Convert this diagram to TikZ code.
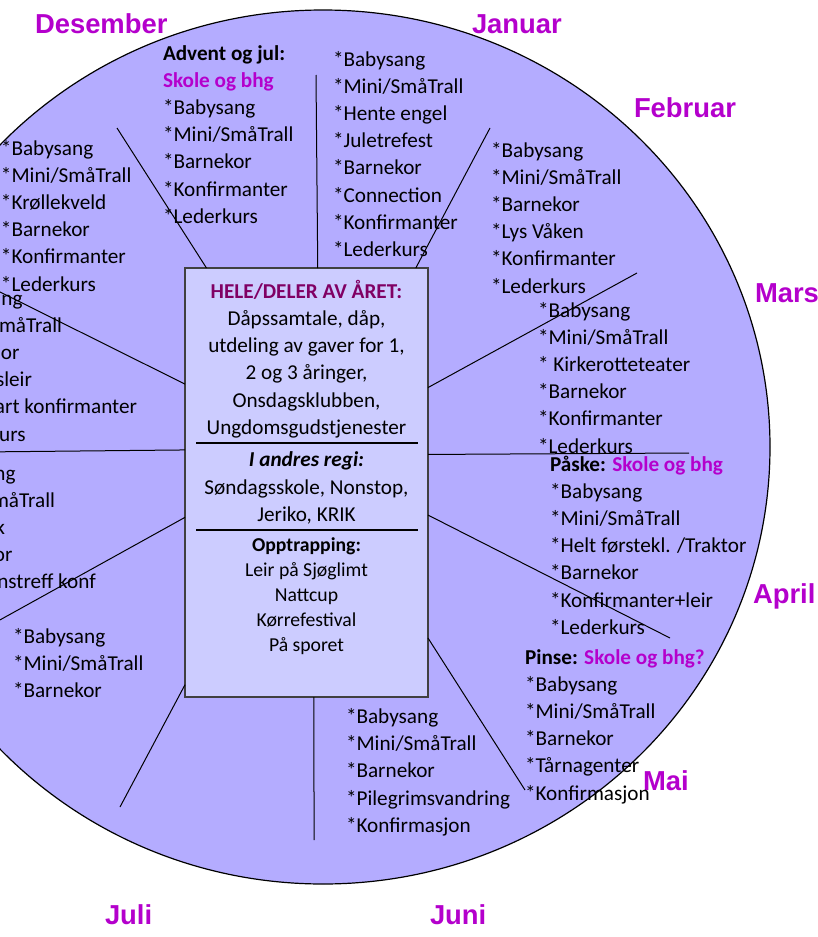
\documentclass[tikz,border=0pt]{standalone}
\usepackage{fontspec}
\setmainfont{Carlito}
\newfontfamily\monthfont{Liberation Sans}
\definecolor{ringfill}{RGB}{180,172,255}
\definecolor{boxfill}{RGB}{204,204,255}
\definecolor{boxborder}{RGB}{64,64,64}
\definecolor{monthpurple}{RGB}{180,0,204}
\definecolor{headplum}{RGB}{128,0,100}
\tikzstyle{every node}=[inner sep=0pt, outer sep=0pt]
\tikzstyle{month} = [anchor=base west, font=\monthfont\bfseries\fontsize{13.7}{16}\selectfont, text=monthpurple]
\tikzstyle{item} = [anchor=base west, font=\fontsize{10.6}{13.6}\selectfont]
\tikzstyle{cut} = [item, anchor=base east]
\tikzstyle{boxtext} = [anchor=base, font=\fontsize{10.6}{13.6}\selectfont]
\tikzstyle{boxsmall} = [anchor=base, font=\fontsize{9.85}{12.5}\selectfont]
\tikzstyle{spoke} = [draw, line width=0.5pt]
\tikzstyle{divider} = [draw, line width=1.3pt]
\def\lsep{27.2}
\begin{document}
\begin{tikzpicture}[x=0.5pt, y=-0.5pt]
    \useasboundingbox (0,0) rectangle (818,937);
    \clip (0,0) rectangle (818,937);

    % the year wheel
    \draw[fill=ringfill, line width=0.6pt] (323,447) ellipse [x radius=223.5pt, y radius=218.5pt];

    \node[month] (desember) at (35,33) {Desember};
    \node[month] (januar) at (472,33) {Januar};
    \node[month] (februar) at (634,117) {Februar};
    \node[month] (mars) at (755,302) {Mars};
    \node[month] (april) at (753,603) {April};
    \node[month] (mai) at (643,790) {Mai};
    \node[month] (juni) at (430,924) {Juni};
    \node[month] (juli) at (105,924) {Juli};

    % centre box
    \node[draw=boxborder, fill=boxfill, line width=0.8pt, minimum width=121.5pt, minimum height=214.5pt] (hele) at (306.5,482.5) {};

    % spokes
    \foreach \n/\x/\y in {desjan/316/75, janfeb/490/128, febmar/637/273, marapr/689/453,
        aprmai/670/638, maijun/525/790, junjul/314/840, julaug/120/807,
        augsep/-20/631, sepokt/-20/452, oktnov/-20/282, novdes/117/128}
        \coordinate (s-\n) at (\x,\y);
    \foreach \n/\a in {desjan/87.46, janfeb/63.59, febmar/38.46, marapr/13.65,
        aprmai/345.91, maijun/308.91, junjul/272.0, julaug/239.4,
        augsep/196.72, sepokt/165.91, oktnov/141.26, novdes/115.76}
        \draw[spoke] (hele.\a) -- (s-\n);

    \node[boxtext, font=\fontsize{10.6}{13.6}\selectfont\bfseries, text=headplum] (heletitle) at (306.5,298) {HELE/DELER AV ÅRET:};
    \node[boxtext] (hele1) at (306.5,325.3) {Dåpssamtale, dåp,};
    \node[boxtext] (hele2) at (306.5,352.6) {utdeling av gaver for 1,};
    \node[boxtext] (hele3) at (306.5,379.9) {2 og 3 åringer,};
    \node[boxtext] (hele4) at (306.5,407.2) {Onsdagsklubben,};
    \node[boxtext] (hele5) at (306.5,434.5) {Ungdomsgudstjenester};
    \draw[divider] (196,443) -- (418,443);
    \node[boxtext, font=\fontsize{10.6}{13.6}\selectfont\bfseries\itshape] (andretitle) at (306.5,466.7) {I andres regi:};
    \node[boxtext] (andre1) at (306.5,494) {Søndagsskole, Nonstop,};
    \node[boxtext] (andre2) at (306.5,521.3) {Jeriko, KRIK};
    \draw[divider] (196,530) -- (418,530);
    \node[boxsmall, font=\fontsize{9.85}{12.5}\selectfont\bfseries] (opptitle) at (306.5,551.7) {Opptrapping:};
    \foreach \t [count=\i] in {Leir på Sjøglimt, Nattcup, Kørrefestival, På sporet}
        \node[boxsmall] (opp\i) at (306.5,551.7+25*\i) {\t};

    % months
    \foreach \t [count=\i from 0] in {*Babysang, *Mini/SmåTrall, *Krøllekveld, *Barnekor, *Konfirmanter, *Lederkurs}
        \node[item] (nov\i) at (1,155+\lsep*\i) {\t};

    \node[item, font=\fontsize{10.6}{13.6}\selectfont\bfseries] (deshead) at (163,60) {Advent og jul:};
    \node[item, font=\fontsize{10.6}{13.6}\selectfont\bfseries, text=monthpurple] (desskole) at (163,87.2) {Skole og bhg};
    \foreach \t [count=\i from 0] in {*Babysang, *Mini/SmåTrall, *Barnekor, *Konfirmanter, *Lederkurs}
        \node[item] (des\i) at (163,114.4+\lsep*\i) {\t};

    \foreach \t [count=\i from 0] in {*Babysang, *Mini/SmåTrall, *Hente engel, *Juletrefest, *Barnekor, *Connection, *Konfirmanter, *Lederkurs}
        \node[item] (jan\i) at (333,66+\lsep*\i) {\t};

    \foreach \t [count=\i from 0] in {*Babysang, *Mini/SmåTrall, *Barnekor, *Lys Våken, *Konfirmanter, *Lederkurs}
        \node[item] (feb\i) at (491,157+\lsep*\i) {\t};

    \foreach \t [count=\i from 0] in {*Babysang, *Mini/SmåTrall, * Kirkerotteteater, *Barnekor, *Konfirmanter, *Lederkurs}
        \node[item] (mar\i) at (538,317+\lsep*\i) {\t};

    \node[item] (aprhead) at (550,471) {\textbf{Påske:} \textcolor{monthpurple}{\textbf{Skole og bhg}}};
    \foreach \t [count=\i] in {*Babysang, *Mini/SmåTrall, *Helt førstekl. /Traktor, *Barnekor, *Konfirmanter+leir, *Lederkurs}
        \node[item] (apr\i) at (550,471+\lsep*\i) {\t};

    \node[item] (maihead) at (525,664) {\textbf{Pinse:} \textcolor{monthpurple}{\textbf{Skole og bhg?}}};
    \foreach \t [count=\i] in {*Babysang, *Mini/SmåTrall, *Barnekor, *Tårnagenter, *Konfirmasjon}
        \node[item] (mai\i) at (525,664+\lsep*\i) {\t};

    \foreach \t [count=\i from 0] in {*Babysang, *Mini/SmåTrall, *Barnekor, *Pilegrimsvandring, *Konfirmasjon}
        \node[item] (jun\i) at (346,723.5+\lsep*\i) {\t};

    \foreach \t [count=\i from 0] in {*Babysang, *Mini/SmåTrall, *Barnekor}
        \node[item] (aug\i) at (13,643.5+\lsep*\i) {\t};

    % cut off at the left edge
    \foreach \e/\t [count=\i from 0] in {15.5/ng, 55/måTrall, 5/k, 12.5/or, 95.8/nstreff konf}
        \node[cut] (sep\i) at (\e,480+\lsep*\i) {\t};
    \foreach \e/\t [count=\i from 0] in {22.5/ng, 62/måTrall, 19.5/or, 32/sleir, 137/art konfirmanter, 25.6/urs}
        \node[cut] (okt\i) at (\e,305+\lsep*\i) {\t};

\end{tikzpicture}
\end{document}
